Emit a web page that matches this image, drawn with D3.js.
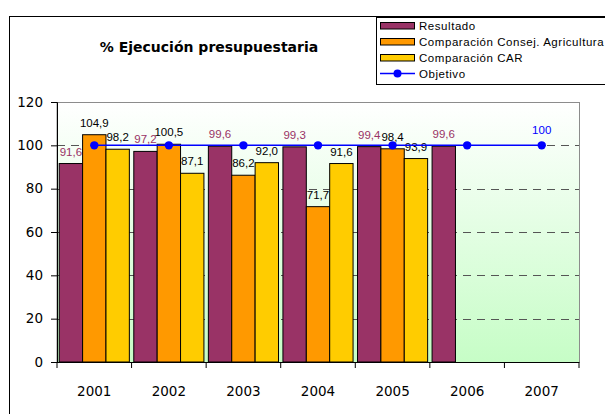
<!DOCTYPE html>
<html><head><meta charset="utf-8">
<script src="https://cdn.jsdelivr.net/npm/d3@7"></script>
<style>body{margin:0;background:#fff}svg{display:block}</style>
</head><body>
<script>
const years = ["2001","2002","2003","2004","2005","2006","2007"];
const resultado = [91.6, 97.2, 99.6, 99.3, 99.4, 99.6, null];
const consej = [104.9, 100.5, 86.2, 71.7, 98.4, null, null];
const car = [98.2, 87.1, 92.0, 91.6, 93.9, null, null];
const objetivo = [100, 100, 100, 100, 100, 100, 100];
const yTicks = [0, 20, 40, 60, 80, 100, 120];
const seriesNames = ["Resultado", "Comparación Consej. Agricultura", "Comparación CAR", "Objetivo"];
const colors = ["#993366", "#FF9900", "#FFCC00", "#0000FF"];

const W = 605, H = 414;
const svg = d3.select("body").append("svg").attr("width", W).attr("height", H);

// outer chart border
svg.append("rect").attr("x", 9.5).attr("y", 16.5).attr("width", 640).attr("height", 450)
  .attr("fill", "#fff").attr("stroke", "#000").attr("stroke-width", 1);

const L = 57, R = 579, T = 102, B = 362;
const x = d3.scaleBand().domain(years).range([L, R]).paddingInner(0).paddingOuter(0);
const y = d3.scaleLinear().domain([0, 120]).range([B, T]);

const defs = svg.append("defs");
const grad = defs.append("linearGradient").attr("id", "bg").attr("x1", 0).attr("y1", 0).attr("x2", 0).attr("y2", 1);
grad.append("stop").attr("offset", "0%").attr("stop-color", "#ffffff");
grad.append("stop").attr("offset", "100%").attr("stop-color", "#c6fdc6");

svg.append("rect").attr("x", L).attr("y", T + 0.5).attr("width", R - L + 0.5).attr("height", B - T)
  .attr("fill", "url(#bg)").attr("stroke", "#8c8c8c").attr("stroke-width", 1);

// gridlines
svg.append("g").selectAll("line").data(yTicks.filter(v => v > 0 && v < 120)).join("line")
  .attr("x1", L).attr("x2", R).attr("y1", d => Math.round(y(d)) + 0.5).attr("y2", d => Math.round(y(d)) + 0.5)
  .attr("stroke", "#555").attr("stroke-dasharray", "8,6").attr("stroke-width", 1);

// bars
const inner = d3.scaleBand().domain([0, 1, 2]).range([0, x.bandwidth()]).paddingOuter(0.095).paddingInner(0);
const series = [resultado, consej, car];
series.forEach((vals, si) => {
  svg.append("g").selectAll("rect").data(years.map((yr, i) => ({yr, v: vals[i]})).filter(d => d.v != null)).join("rect")
    .attr("x", d => x(d.yr) + inner(si))
    .attr("y", d => y(d.v))
    .attr("width", inner.bandwidth())
    .attr("height", d => y(0) - y(d.v))
    .attr("fill", colors[si]).attr("stroke", "#000").attr("stroke-width", 1);
});

// axes
const yAxis = d3.axisLeft(y).tickValues(yTicks).tickSize(6).tickPadding(8);
const gy = svg.append("g").attr("transform", `translate(${L},0)`).call(yAxis);
gy.select(".domain").attr("stroke", "#000");
gy.selectAll("text").attr("font-family", "DejaVu Sans, sans-serif").attr("font-size", 13.5).attr("fill", "#000");

const gx = svg.append("g").attr("transform", `translate(0,${B})`);
gx.append("line").attr("x1", L).attr("x2", R).attr("y1", 0.5).attr("y2", 0.5).attr("stroke", "#000");
gx.selectAll("line.t").data(d3.range(years.length + 1)).join("line").attr("class", "t")
  .attr("x1", i => L + i * x.step()).attr("x2", i => L + i * x.step()).attr("y1", 0).attr("y2", 6).attr("stroke", "#000");
gx.selectAll("text").data(years).join("text")
  .attr("x", d => x(d) + x.bandwidth() / 2).attr("y", 33.5).attr("text-anchor", "middle")
  .attr("font-family", "DejaVu Sans, sans-serif").attr("font-size", 13.5).text(d => d);

// data labels
const fmt = v => v.toFixed(1).replace(".", ",");
const labelColors = ["#993366", "#000", "#000"];
series.forEach((vals, si) => {
  svg.append("g").selectAll("text").data(years.map((yr, i) => ({yr, v: vals[i]})).filter(d => d.v != null)).join("text")
    .attr("x", d => x(d.yr) + inner(si) + inner.bandwidth() / 2)
    .attr("y", d => y(d.v) - 8)
    .attr("text-anchor", "middle")
    .attr("font-family", "Liberation Sans, Arial, sans-serif").attr("font-size", 11.5)
    .attr("fill", labelColors[si]).text(d => fmt(d.v));
});

// objetivo line
const line = d3.line().x((d, i) => x(years[i]) + x.bandwidth() / 2).y(d => y(d));
svg.append("path").datum(objetivo).attr("d", line).attr("fill", "none").attr("stroke", colors[3]).attr("stroke-width", 1.5);
svg.append("g").selectAll("circle").data(objetivo).join("circle")
  .attr("cx", (d, i) => x(years[i]) + x.bandwidth() / 2).attr("cy", d => y(d)).attr("r", 4.2).attr("fill", colors[3]);
svg.append("text").attr("x", x(years[6]) + x.bandwidth() / 2).attr("y", y(objetivo[6]) - 11)
  .attr("text-anchor", "middle").attr("font-family", "Liberation Sans, Arial, sans-serif").attr("font-size", 11.5)
  .attr("fill", colors[3]).text(objetivo[6]);

// title
svg.append("text").attr("x", 209).attr("y", 52).attr("text-anchor", "middle")
  .attr("font-family", "DejaVu Sans, sans-serif").attr("font-weight", "bold").attr("font-size", 14)
  .text("% Ejecución presupuestaria");

// legend
const lg = svg.append("g").attr("transform", "translate(376,17)");
lg.append("rect").attr("x", 0.5).attr("y", 0.5).attr("width", 260).attr("height", 67).attr("fill", "#fff").attr("stroke", "#000");
seriesNames.forEach((n, i) => {
  const cy = 8.5 + i * 16;
  if (i < 3) {
    lg.append("rect").attr("x", 4.5).attr("y", cy - 3).attr("width", 34).attr("height", 6.5).attr("fill", colors[i]).attr("stroke", "#000");
  } else {
    lg.append("line").attr("x1", 4).attr("x2", 39).attr("y1", cy).attr("y2", cy).attr("stroke", colors[3]).attr("stroke-width", 1.5);
    lg.append("circle").attr("cx", 21.5).attr("cy", cy).attr("r", 4).attr("fill", colors[3]);
  }
  lg.append("text").attr("x", 43).attr("y", cy + 4).attr("font-family", "Liberation Sans, Arial, sans-serif")
    .attr("font-size", 11.5).attr("letter-spacing", 0.55).text(n);
});
</script>
</body></html>
